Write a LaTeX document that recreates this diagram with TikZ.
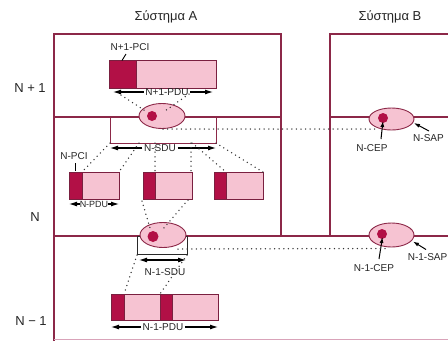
\documentclass[tikz,border=0pt]{standalone}
\usepackage{fontspec}
\setmainfont{Liberation Sans}
\usetikzlibrary{shapes.geometric,arrows.meta}

\definecolor{pciRed}{HTML}{B21046}
\definecolor{dataPink}{HTML}{F6C3D2}
\definecolor{frameC}{HTML}{8C2848}
\definecolor{boxC}{HTML}{7A2040}
\definecolor{dotC}{HTML}{333333}
\definecolor{edgeC}{HTML}{D9A3B9}

\tikzset{
  frame/.style={draw=frameC, line width=1.1pt},
  pdubox/.style={draw=boxC, fill=dataPink, line width=0.8pt, inner sep=0, anchor=north west},
  pcibox/.style={draw=boxC, fill=pciRed, line width=0.8pt, inner sep=0, anchor=north west},
  sdubox/.style={draw=frameC, line width=0.9pt, inner sep=0, anchor=north west},
  sdubox2/.style={draw=dotC!80!black, line width=1pt, inner sep=0, anchor=north west},
  sap/.style={ellipse, draw=frameC, fill=dataPink, line width=0.9pt, inner sep=0},
  cep/.style={circle, fill=pciRed, inner sep=0, minimum size=10pt},
  dotline/.style={draw=dotC, line width=1.5pt, line cap=round, dash pattern=on 0pt off 4.6pt},
  spanarrow/.style={line width=1.1pt, -{Latex[length=8pt,width=5pt]}},
  ptr/.style={line width=1pt, -{Latex[length=6pt,width=4pt]}},
  lbl/.style={font=\fontsize{10}{12}\selectfont, inner sep=1.5pt, text=black!85},
  layer/.style={font=\fontsize{13}{15}\selectfont, inner sep=0, text=black!85},
  sys/.style={font=\fontsize{13}{15}\selectfont, inner sep=0, text=black!85},
}

\begin{document}
\begin{tikzpicture}[x=1pt,y=-1pt]
\useasboundingbox (0,0) rectangle (448,341);
\fill[white] (0,0) rectangle (448,341);

% system frames and layer boundaries
\draw[frame] (54,341) -- (54,34) -- (281,34) -- (281,236);
\draw[frame] (330,236) -- (330,34) -- (448,34);
\draw[frame] (54,117) -- (281,117);
\draw[frame] (330,117) -- (448,117);
\draw[frame] (54,236) -- (448,236);
\draw[edgeC, line width=1pt] (54,339.5) -- (448,339.5);

% titles and layer names
\node[sys] (sysA) at (166,17) {Σύστημα A};
\node[sys] (sysB) at (390,17) {Σύστημα B};
\node[layer] (layerUp) at (30,88) {N + 1};
\node[layer] (layerN) at (35,217) {N};
\node[layer] (layerDown) at (31,321) {N − 1};

% (N+1)-PDU
\node[pdubox, minimum width=107pt, minimum height=28pt] (pduTop) at (109,60) {};
\node[pcibox, minimum width=27pt, minimum height=28pt] (pciTop) at (109,60) {};
\node[lbl] (pciTopL) at (130,47) {N+1-PCI};
\coordinate (pciTopT) at (126,54);
\coordinate (pciTopH) at (122,60.5);
\draw[line width=0.9pt] (pciTopT) -- (pciTopH);
\node[lbl] (pduTopL) at (167,92) {N+1-PDU};
\coordinate (pduTopW) at (113,92);
\coordinate (pduTopE) at (213,92);
\draw[spanarrow] (pduTopL.west) -- (pduTopW);
\draw[spanarrow] (pduTopL.east) -- (pduTopE);

% N-SDU box and N-SAP of system A
\node[sdubox, minimum width=106pt, minimum height=26pt] (sduN) at (110,117) {};
\node[sap, minimum width=46pt, minimum height=25pt] (sapNA) at (162,116) {};
\node[cep] (cepNA) at (152,116) {};
\node[lbl] (sduNL) at (160,148) {N-SDU};
\coordinate (sduNW) at (110,148);
\coordinate (sduNE) at (216,148);
\draw[spanarrow] (sduNL.west) -- (sduNW);
\draw[spanarrow] (sduNL.east) -- (sduNE);

% N-PDUs
\node[pdubox, minimum width=50pt, minimum height=27pt] (pduN1) at (69,172) {};
\node[pcibox, minimum width=13pt, minimum height=27pt] (pciN1) at (69,172) {};
\node[pdubox, minimum width=49pt, minimum height=27pt] (pduN2) at (143,172) {};
\node[pcibox, minimum width=12pt, minimum height=27pt] (pciN2) at (143,172) {};
\node[pdubox, minimum width=49pt, minimum height=27pt] (pduN3) at (214,172) {};
\node[pcibox, minimum width=12pt, minimum height=27pt] (pciN3) at (214,172) {};
\node[lbl] (pciNL) at (74,156) {N-PCI};
\coordinate (pciNT) at (75,163);
\coordinate (pciNH) at (75,170.5);
\draw[line width=0.9pt] (pciNT) -- (pciNH);
\node[lbl, inner sep=0, font=\fontsize{9}{11}\selectfont] (pduNL) at (94,204) {N-PDU};
\coordinate (pduNW) at (69,204);
\coordinate (pduNE) at (119,204);
\draw[spanarrow] (pduNL.west) -- (pduNW);
\draw[spanarrow] (pduNL.east) -- (pduNE);

% (N-1)-SDU box and (N-1)-SAP of system A
\node[sdubox2, minimum width=50pt, minimum height=18pt] (sduD) at (137,236) {};
\node[sap, minimum width=46pt, minimum height=25pt] (sapDA) at (163,235) {};
\node[cep, minimum size=11pt] (cepDA) at (153,236.5) {};
\coordinate (sduDW) at (139,260);
\coordinate (sduDE) at (186,260);
\draw[line width=1.1pt, {Latex[length=8pt,width=5pt]}-{Latex[length=8pt,width=5pt]}] (sduDW) -- (sduDE);
\node[lbl] (sduDL) at (165,272) {N-1-SDU};

% (N-1)-PDU
\node[pdubox, minimum width=107pt, minimum height=26pt] (pduD) at (111,294) {};
\node[pcibox, minimum width=13pt, minimum height=26pt] (pciD1) at (111,294) {};
\node[pcibox, minimum width=12pt, minimum height=26pt] (pciD2) at (160,294) {};
\node[lbl] (pduDL) at (163,327) {N-1-PDU};
\coordinate (pduDW) at (111,327);
\coordinate (pduDE) at (218,327);
\draw[spanarrow] (pduDL.west) -- (pduDW);
\draw[spanarrow] (pduDL.east) -- (pduDE);

% system B access points
\node[sap, minimum width=45pt, minimum height=22pt] (sapNB) at (391.5,119) {};
\node[cep] (cepNB) at (383,118) {};
\node[sap, minimum width=45pt, minimum height=24pt] (sapDB) at (391.5,235) {};
\node[cep] (cepDB) at (382,234) {};

\node[lbl] (cepNBL) at (372,148) {N-CEP};
\coordinate (cepNBT) at (381,139);
\coordinate (cepNBH) at (383,121);
\draw[ptr] (cepNBT) -- (cepNBH);
\node[lbl] (sapNBL) at (428.5,138) {N-SAP};
\coordinate (sapNBT) at (429,131);
\coordinate (sapNBH) at (414,123);
\draw[ptr] (sapNBT) -- (sapNBH);

\node[lbl] (cepDBL) at (374,268.5) {N-1-CEP};
\coordinate (cepDBT) at (379,259);
\coordinate (cepDBH) at (382.5,237);
\draw[ptr] (cepDBT) -- (cepDBH);
\node[lbl, anchor=east, inner sep=0.5pt] (sapDBL) at (448,257) {N-1-SAP};
\coordinate (sapDBT) at (426,249.5);
\coordinate (sapDBH) at (413,241.5);
\draw[ptr] (sapDBT) -- (sapDBH);

% dotted mapping lines
\coordinate (m1a) at (121,95);   \coordinate (m1b) at (147,112);
\coordinate (m2a) at (189,94);   \coordinate (m2b) at (165,111);
\draw[dotline] (m1a) -- (m1b);
\draw[dotline] (m2a) -- (m2b);

\coordinate (c1a) at (163,129);  \coordinate (c1b) at (378,129);
\draw[dotline] (c1a) -- (c1b);

\coordinate (s1a) at (110,143);  \coordinate (s1b) at (82,172);
\coordinate (s2a) at (139,143);  \coordinate (s2b) at (119,172);
\coordinate (s3a) at (155,143);  \coordinate (s3b) at (155,172);
\coordinate (s4a) at (191,143);  \coordinate (s4b) at (191,172);
\coordinate (s5a) at (192,143);  \coordinate (s5b) at (226,172);
\coordinate (s6a) at (216,143);  \coordinate (s6b) at (263,172);
\draw[dotline] (s1a) -- (s1b);
\draw[dotline] (s2a) -- (s2b);
\draw[dotline] (s3a) -- (s3b);
\draw[dotline] (s4a) -- (s4b);
\draw[dotline] (s5a) -- (s5b);
\draw[dotline] (s6a) -- (s6b);

\coordinate (d1a) at (142,201);  \coordinate (d1b) at (150,228);
\coordinate (d2a) at (188,200);  \coordinate (d2b) at (163,229);
\draw[dotline] (d1a) -- (d1b);
\draw[dotline] (d2a) -- (d2b);

\coordinate (c2a) at (178,249);  \coordinate (c2b) at (388,248.5);
\draw[dotline] (c2a) -- (c2b);

\coordinate (e1a) at (137,255);  \coordinate (e1b) at (124,294);
\coordinate (e2a) at (187,255);  \coordinate (e2b) at (160,294);
\draw[dotline] (e1a) -- (e1b);
\draw[dotline] (e2a) -- (e2b);
\end{tikzpicture}
\end{document}
